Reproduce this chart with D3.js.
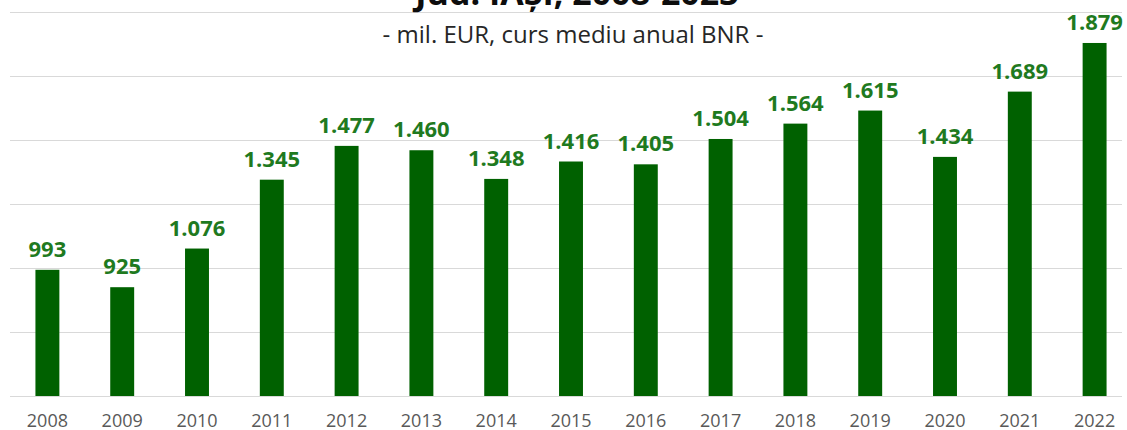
<!DOCTYPE html>
<html>
<head>
<meta charset="utf-8">
<script src="https://cdn.jsdelivr.net/npm/d3@7"></script>
<style>
  html, body { margin: 0; padding: 0; background: #fff; }
  svg { display: block; }
</style>
</head>
<body>
<svg id="chart" width="1127" height="430"></svg>
<script>
const titleText = "Jud. IAȘI, 2008-2023";
const subtitleText = "- mil. EUR, curs mediu anual BNR -";
const years = ["2008","2009","2010","2011","2012","2013","2014","2015","2016","2017","2018","2019","2020","2021","2022"];
const values = [993, 925, 1076, 1345, 1477, 1460, 1348, 1416, 1405, 1504, 1564, 1615, 1434, 1689, 1879];
const gridTicks = [500, 750, 1000, 1250, 1500, 1750, 2000];

const svg = d3.select("#chart");

const x = d3.scaleBand().domain(years).range([10, 1132]).paddingInner(0.68).paddingOuter(0.34);
const y = d3.scaleLinear().domain([500, 2000]).range([396, 12]);

// gridlines
svg.append("g")
  .selectAll("line")
  .data(gridTicks)
  .join("line")
  .attr("x1", 10).attr("x2", 1122)
  .attr("y1", d => Math.round(y(d)) + 0.5)
  .attr("y2", d => Math.round(y(d)) + 0.5)
  .attr("stroke", "#d9d9d9").attr("stroke-width", 1);

// title (clipped at top as in reference)
svg.append("text")
  .attr("x", 577).attr("y", 5)
  .attr("text-anchor", "middle")
  .attr("font-family", "Open Sans, sans-serif")
  .attr("font-weight", "bold")
  .attr("font-size", 34)
  .attr("fill", "#0d0d0d")
  .text(titleText);

svg.append("text")
  .attr("x", 573).attr("y", 43)
  .attr("text-anchor", "middle")
  .attr("font-family", "Open Sans, sans-serif")
  .attr("font-size", 24)
  .attr("fill", "#262626")
  .text(subtitleText);

// bars
svg.append("g")
  .selectAll("rect")
  .data(values)
  .join("rect")
  .attr("x", (d, i) => x(years[i]))
  .attr("width", x.bandwidth())
  .attr("y", d => y(d))
  .attr("height", d => y(500) - y(d))
  .attr("fill", "#006100");

// value labels
const fmt = v => d3.format(",")(v).replace(/,/g, ".");
svg.append("g")
  .selectAll("text")
  .data(values)
  .join("text")
  .attr("x", (d, i) => x(years[i]) + x.bandwidth() / 2)
  .attr("y", d => y(d) - 13)
  .attr("text-anchor", "middle")
  .attr("font-family", "Open Sans, sans-serif")
  .attr("font-weight", "bold")
  .attr("font-size", 22)
  .attr("fill", "#1f7a1f")
  .text(d => fmt(d));

// x axis
const xAxis = d3.axisBottom(x).tickSize(0).tickPadding(0);
const gx = svg.append("g").attr("transform", "translate(0,396)").call(xAxis);
gx.select(".domain").remove();
gx.selectAll("text")
  .attr("dy", null)
  .attr("y", 31)
  .attr("font-family", "Open Sans, sans-serif")
  .attr("font-size", 18)
  .attr("fill", "#595959");
</script>
</body>
</html>
